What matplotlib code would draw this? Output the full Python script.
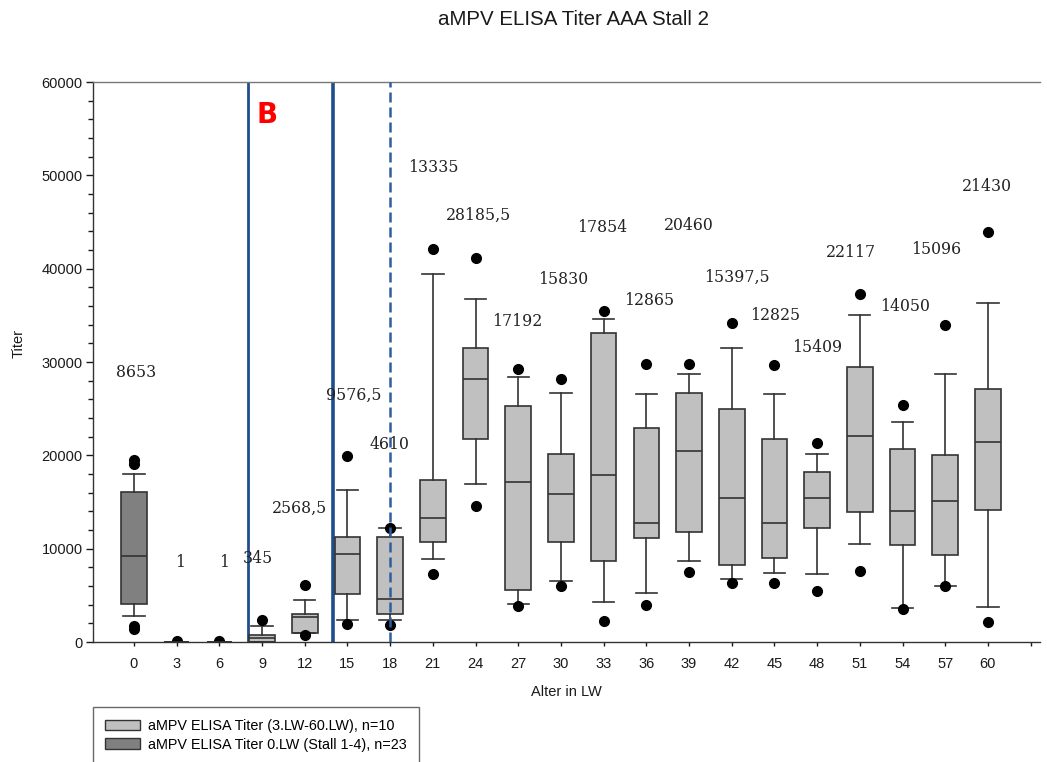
import matplotlib
matplotlib.use("Agg")
import matplotlib.pyplot as plt
from matplotlib.patches import Patch
from matplotlib.ticker import MultipleLocator

# age in weeks (LW) and box statistics
weeks = [0, 3, 6, 9, 12, 15, 18, 21, 24, 27, 30, 33, 36, 39, 42, 45, 48, 51, 54, 57, 60]
whislo = [2800, 0, 0, 0, 960, 2350, 2350, 8850, 16900, 4050, 6550, 4300, 5300, 8700,
          6800, 7350, 7250, 10500, 3650, 6050, 3800]
q1 = [4050, 0, 0, 0, 960, 5100, 3050, 10750, 21800, 5550, 10750, 8700, 11150, 11800,
      8300, 9050, 12200, 13900, 10400, 9300, 14150]
med = [9200, 10, 10, 390, 2680, 9450, 4610, 13300, 28180, 17150, 15830, 17850, 12800,
       20460, 15400, 12800, 15410, 22100, 14000, 15100, 21450]
q3 = [16100, 20, 20, 790, 2960, 11200, 11200, 17350, 31550, 25300, 20150, 33150, 22900,
      26700, 24950, 21800, 18200, 29450, 20700, 20000, 27100]
whishi = [17950, 30, 30, 1750, 4550, 16250, 12250, 39450, 36800, 28400, 26700, 34650,
          26550, 28750, 31550, 26600, 20100, 35050, 23550, 28750, 36300]
fliers = [[1350, 1700, 19050, 19550], [60], [60], [2350], [780, 6100], [1900, 19950],
          [1800, 12250], [7250, 42150], [14600, 41150], [3850, 29300], [6000, 28150],
          [2200, 35450], [3950, 29800], [7500, 29750], [6300, 34200], [6300, 29650],
          [5450, 21350], [7600, 37300], [3550, 25350], [6050, 34000], [2100, 43950]]
median_labels = ["8653", "1", "1", "345", "2568,5", "9576,5", "4610", "13335", "28185,5",
                 "17192", "15830", "17854", "12865", "20460", "15397,5", "12825", "15409",
                 "22117", "14050", "15096", "21430"]

# where each median label sits (category index, titer)
label_pos = [(0.04, 28900), (1.08, 8500), (2.11, 8500), (2.90, 8950), (3.88, 14350),
             (5.15, 26450), (5.98, 21200), (7.0, 50800), (8.08, 45750), (8.97, 34300),
             (10.05, 38800), (10.96, 44400), (12.06, 36550), (13.0, 44600), (14.12, 39100),
             (15.01, 34950), (16.0, 31500), (16.79, 41700), (18.06, 35900), (18.78, 42000),
             (19.98, 48800)]

legend_labels = ["aMPV ELISA Titer (3.LW-60.LW), n=10",
                 "aMPV ELISA Titer 0.LW (Stall 1-4), n=23"]

light = "#c0c0c0"
dark = "#808080"
edge = "#333333"
blue = "#1f4e8c"

plt.rcParams["font.family"] = ["Liberation Sans", "DejaVu Sans"]

fig = plt.figure(figsize=(10.47, 7.62), dpi=100)
ax = fig.add_axes([93 / 1047, 120 / 762, 947 / 1047, 560 / 762])

stats = []
for i in range(len(weeks)):
    stats.append(dict(whislo=whislo[i], q1=q1[i], med=med[i], q3=q3[i],
                      whishi=whishi[i], fliers=fliers[i]))

bp = ax.bxp(stats, positions=range(len(weeks)), widths=0.6, capwidths=0.5,
            patch_artist=True,
            boxprops=dict(facecolor=light, edgecolor=edge, linewidth=1.2),
            medianprops=dict(color=edge, linewidth=1.2),
            whiskerprops=dict(color=edge, linewidth=1.2),
            capprops=dict(color=edge, linewidth=1.2),
            flierprops=dict(marker="o", markerfacecolor="black",
                            markeredgecolor="black", markersize=7))
bp["boxes"][0].set_facecolor(dark)

for txt, (x, y) in zip(median_labels, label_pos):
    ax.text(x, y, txt, ha="center", va="center", fontsize=11.3,
            family="DejaVu Serif", color="#222222")

# stall markers
ax.axvline(2.68, color=blue, lw=2.0, zorder=1)
ax.axvline(4.67, color=blue, lw=2.6, zorder=1)
ax.axvline(6.0, color="#2d5fa0", lw=1.8, ls=(0, (4, 2)), zorder=3)
ax.text(2.86, 55600, "B", color="red", fontsize=20, fontweight="bold",
        ha="left", va="baseline", family="DejaVu Sans")

ax.set_xlim(-0.96, 21.22)
ax.set_ylim(0, 60000)
ax.set_xticks(range(len(weeks) + 1))
ax.set_xticklabels([str(w) for w in weeks] + [""])
ax.yaxis.set_major_locator(MultipleLocator(10000))
ax.yaxis.set_minor_locator(MultipleLocator(2000))
ax.tick_params(axis="x", length=3, width=1, pad=7.5, labelsize=10.5, colors="#1a1a1a")
ax.tick_params(axis="y", which="major", length=5, width=1, pad=2.5, labelsize=10.5,
               colors="#1a1a1a")
ax.tick_params(axis="y", which="minor", length=3.5, width=1, colors="#1a1a1a")

ax.spines["right"].set_visible(False)
for s in ["left", "bottom", "top"]:
    ax.spines[s].set_color("#333333")
    ax.spines[s].set_linewidth(1)
ax.spines["top"].set_color("#777777")

ax.set_xlabel("Alter in LW", fontsize=10.5, color="#1a1a1a")
ax.xaxis.set_label_coords(0.5, -0.089)
ax.xaxis.label.set_va("center")
ax.set_ylabel("Titer", fontsize=10.5, color="#1a1a1a")
ax.yaxis.set_label_coords(-0.079, 0.533)
ax.yaxis.label.set_va("center")

fig.text(573 / 1047, 1 - 19.5 / 762, "aMPV ELISA Titer AAA Stall 2",
         ha="center", va="center", fontsize=14.8, color="#1a1a1a")

handles = [Patch(facecolor=light, edgecolor=edge, linewidth=1),
           Patch(facecolor=dark, edgecolor=edge, linewidth=1)]
leg = fig.legend(handles, legend_labels, loc="upper left",
                 bbox_to_anchor=(93 / 1047, 1 - 707 / 762), borderaxespad=0,
                 frameon=True, fancybox=False, edgecolor="#444444",
                 fontsize=10.35, handlelength=2.4, handleheight=0.7,
                 handletextpad=0.55, labelspacing=0.3, borderpad=0.85)
leg.get_frame().set_linewidth(1)

fig.savefig("out.png", dpi=100)
